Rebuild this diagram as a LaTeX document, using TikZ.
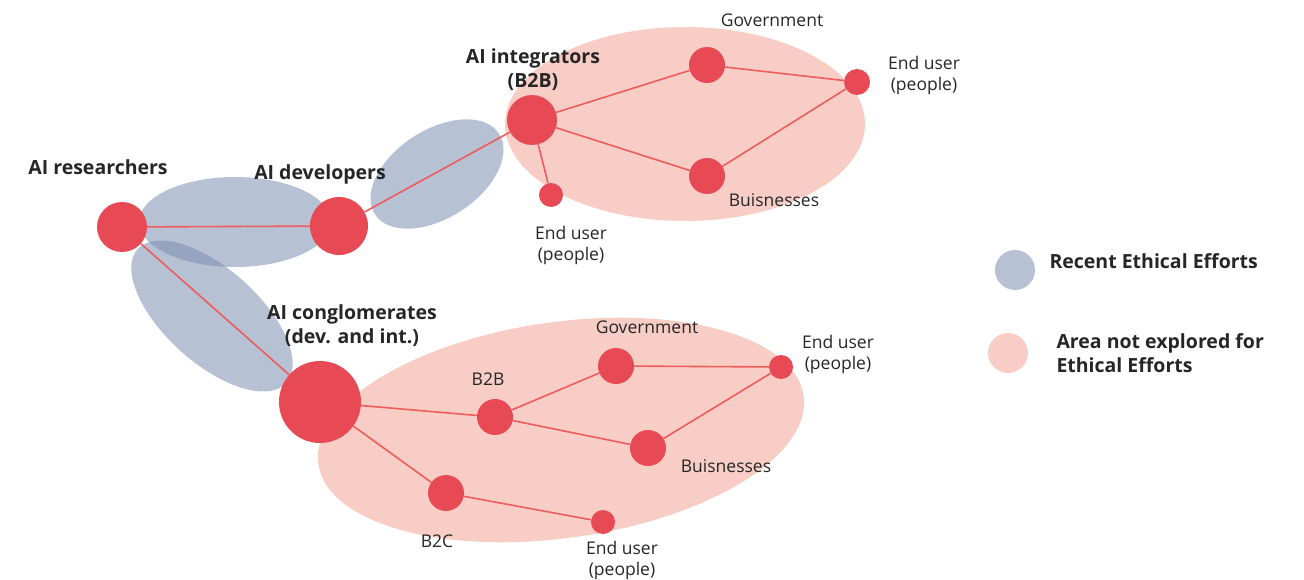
\documentclass[tikz,border=0pt]{standalone}
\usepackage{fontspec}
\setmainfont{Open Sans}
\usetikzlibrary{backgrounds}
\definecolor{nodered}{RGB}{232,74,85}
\definecolor{edgered}{RGB}{238,92,92}
\definecolor{effortblue}{RGB}{122,140,175}
\definecolor{openpink}{RGB}{247,205,198}
\begin{document}
\begin{tikzpicture}[x=1pt,y=-1pt,
  actor/.style={circle,fill=nodered,inner sep=0pt,minimum size=#1},
  link/.style={draw=edgered,line width=1.6pt},
  bigtag/.style={font=\fontsize{19.5}{24}\selectfont\bfseries,align=center,text=black!85},
  tag/.style={font=\fontsize{17.5}{21}\selectfont,align=center,text=black!85},
  effort/.style={fill=effortblue,fill opacity=0.54},
  unexplored/.style={fill=openpink}]
\useasboundingbox (0,0) rectangle (1304,580);

% actors
\node[actor=50pt] (res) at (122,227) {};
\node[actor=58pt] (dev) at (339,226) {};
\node[actor=50pt] (int) at (532,120) {};
\node[actor=36pt] (govA) at (707,65) {};
\node[actor=26pt] (endA) at (857,82) {};
\node[actor=36pt] (busA) at (707,176) {};
\node[actor=24pt] (endB) at (551,195) {};
\node[actor=82pt] (con) at (320,402) {};
\node[actor=36pt] (btob) at (495,417) {};
\node[actor=36pt] (govB) at (616,366) {};
\node[actor=24pt] (endC) at (781,367) {};
\node[actor=36pt] (busB) at (648,448) {};
\node[actor=36pt] (btoc) at (446,493) {};
\node[actor=24pt] (endD) at (603,522) {};

% legend swatches
\node[circle,inner sep=0pt,minimum size=40pt,effort] (legA) at (1015,270) {};
\node[circle,inner sep=0pt,minimum size=40pt,unexplored] (legB) at (1008,353) {};

\begin{scope}[on background layer]
  % regions
  \fill[unexplored] (685,124) ellipse [x radius=180pt,y radius=97pt];
  \fill[unexplored,rotate around={8:(561,430)}] (561,430) ellipse [x radius=245pt,y radius=108pt];
  \fill[effort] (235,222) ellipse [x radius=96pt,y radius=45pt];
  \fill[effort,rotate around={33:(437,174)}] (437,174) ellipse [x radius=74pt,y radius=44pt];
  \fill[effort,rotate around={-42:(212,316)}] (212,316) ellipse [x radius=100pt,y radius=47pt];
  % connections
  \draw[link] (res) -- (dev);
  \draw[link] (res) -- (con);
  \draw[link] (dev) -- (int);
  \draw[link] (int) -- (govA);
  \draw[link] (int) -- (busA);
  \draw[link] (int) -- (endB);
  \draw[link] (govA) -- (endA);
  \draw[link] (busA) -- (endA);
  \draw[link] (con) -- (btob);
  \draw[link] (con) -- (btoc);
  \draw[link] (btob) -- (govB);
  \draw[link] (btob) -- (busB);
  \draw[link] (govB) -- (endC);
  \draw[link] (busB) -- (endC);
  \draw[link] (btoc) -- (endD);
\end{scope}

% labels
\node[bigtag] (tRes) at (98,167) {AI researchers};
\node[bigtag] (tDev) at (320,174) {AI developers};
\node[bigtag] (tInt) at (533,70) {AI integrators\\(B2B)};
\node[bigtag] (tCon) at (352,326) {AI conglomerates\\(dev. and int.)};
\node[tag] (tGovA) at (772,20) {Government};
\node[tag] (tEndA) at (924,75) {End user\\(people)};
\node[tag] (tBusA) at (774,200) {Buisnesses};
\node[tag] (tEndB) at (571,245) {End user\\(people)};
\node[tag] (tBtoB) at (488,379) {B2B};
\node[tag] (tGovB) at (647,327) {Government};
\node[tag] (tEndC) at (838,354) {End user\\(people)};
\node[tag] (tBusB) at (726,466) {Buisnesses};
\node[tag] (tBtoC) at (437,541) {B2C};
\node[tag] (tEndD) at (622,560) {End user\\(people)};
\node[bigtag,anchor=west] (tLegA) at (1046,261) {Recent Ethical Efforts};
\node[bigtag,anchor=west,align=left] (tLegB) at (1053,353) {Area not explored for\\Ethical Efforts};
\end{tikzpicture}
\end{document}
